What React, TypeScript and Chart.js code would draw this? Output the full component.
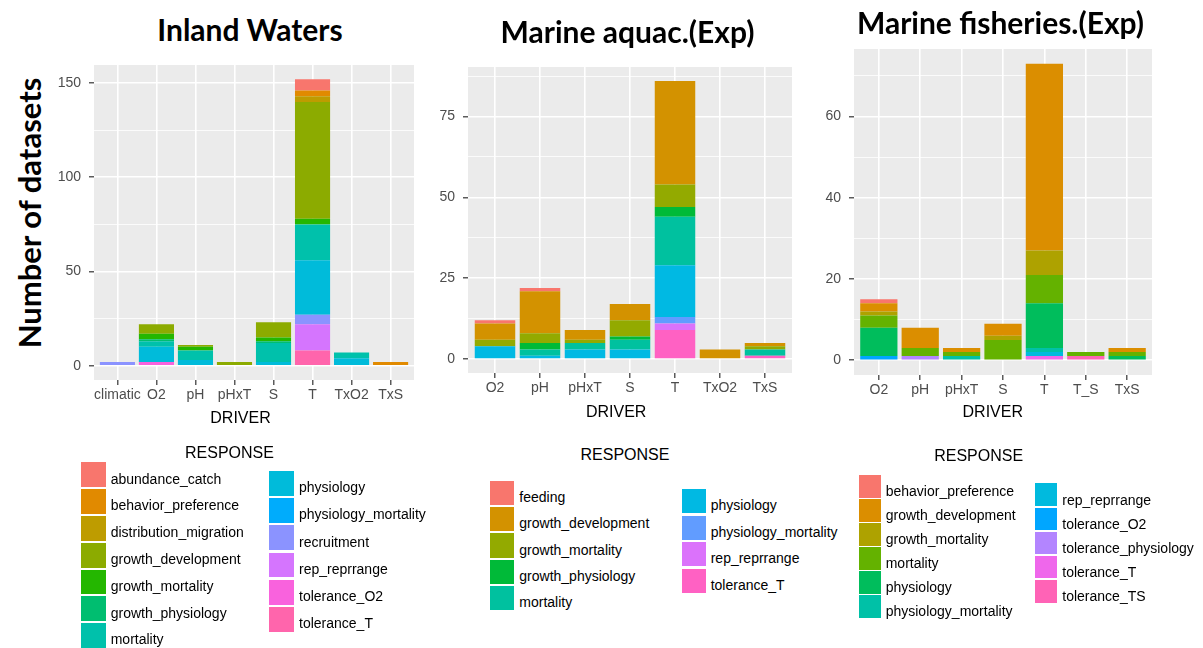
import React, { useEffect, useRef } from 'react';
import { Chart, registerables } from 'chart.js';

Chart.register(...registerables);

// ---------------- Panel 1: Inland Waters ----------------
const inlandDrivers = ['climatic', 'O2', 'pH', 'pHxT', 'S', 'T', 'TxO2', 'TxS'];
const inlandResponses = [
  'abundance_catch', 'behavior_preference', 'distribution_migration', 'growth_development',
  'growth_mortality', 'growth_physiology', 'mortality', 'physiology', 'physiology_mortality',
  'recruitment', 'rep_reprrange', 'tolerance_O2', 'tolerance_T',
];
const inlandColors = [
  '#F8766D', '#E18A00', '#BE9C00', '#8CAB00', '#24B700', '#00BE70', '#00C1AB',
  '#00BBDA', '#00ACFC', '#8B93FF', '#D575FE', '#F962DD', '#FF65AC',
];
// rows follow inlandResponses, columns follow inlandDrivers
const inlandCounts = [
  [0, 0, 0, 0, 0, 6, 0, 0],   // abundance_catch
  [0, 0, 0, 0, 0, 3, 0, 2],   // behavior_preference
  [0, 0, 0, 0, 0, 3, 0, 0],   // distribution_migration
  [0, 5, 1, 2, 8, 62, 0, 0],  // growth_development
  [0, 3, 2, 0, 2, 3, 0, 0],   // growth_mortality
  [0, 1, 0, 0, 1, 0, 0, 0],   // growth_physiology
  [0, 3, 5, 0, 10, 19, 3, 0], // mortality
  [0, 8, 3, 0, 2, 29, 4, 0],  // physiology
  [0, 0, 0, 0, 0, 0, 0, 0],   // physiology_mortality
  [2, 0, 0, 0, 0, 5, 0, 0],   // recruitment
  [0, 0, 0, 0, 0, 14, 0, 0],  // rep_reprrange
  [0, 2, 0, 0, 0, 0, 0, 0],   // tolerance_O2
  [0, 0, 0, 0, 0, 8, 0, 0],   // tolerance_T
];
const inlandYTicks = [0, 50, 100, 150];

// ---------------- Panel 2: Marine aquac.(Exp) ----------------
const aquaDrivers = ['O2', 'pH', 'pHxT', 'S', 'T', 'TxO2', 'TxS'];
const aquaResponses = [
  'feeding', 'growth_development', 'growth_mortality', 'growth_physiology', 'mortality',
  'physiology', 'physiology_mortality', 'rep_reprrange', 'tolerance_T',
];
const aquaColors = [
  '#F8766D', '#D39200', '#93AA00', '#00BA38', '#00C19F', '#00B9E3', '#619CFF', '#DB72FB', '#FF61C3',
];
const aquaCounts = [
  [1, 1, 0, 0, 0, 0, 0],    // feeding
  [5, 13, 3, 5, 32, 3, 1],  // growth_development
  [2, 3, 1, 5, 7, 0, 1],    // growth_mortality
  [0, 2, 0, 1, 3, 0, 0],    // growth_physiology
  [0, 2, 2, 3, 15, 0, 2],   // mortality
  [4, 1, 3, 3, 16, 0, 0],   // physiology
  [0, 0, 0, 0, 2, 0, 0],    // physiology_mortality
  [0, 0, 0, 0, 2, 0, 0],    // rep_reprrange
  [0, 0, 0, 0, 9, 0, 1],    // tolerance_T
];
const aquaYTicks = [0, 25, 50, 75];

// ---------------- Panel 3: Marine fisheries.(Exp) ----------------
const fishDrivers = ['O2', 'pH', 'pHxT', 'S', 'T', 'T_S', 'TxS'];
const fishResponses = [
  'behavior_preference', 'growth_development', 'growth_mortality', 'mortality', 'physiology',
  'physiology_mortality', 'rep_reprrange', 'tolerance_O2', 'tolerance_physiology', 'tolerance_T', 'tolerance_TS',
];
const fishColors = [
  '#F8766D', '#DB8E00', '#AEA200', '#64B200', '#00BD5C', '#00C1A7', '#00BADE', '#00A6FF', '#B385FF', '#EF67EB', '#FF63B6',
];
const fishCounts = [
  [1, 0, 0, 0, 0, 0, 0],   // behavior_preference
  [2, 5, 1, 3, 46, 0, 1],  // growth_development
  [1, 0, 0, 1, 6, 0, 0],   // growth_mortality
  [3, 2, 1, 5, 7, 1, 1],   // mortality
  [7, 0, 0, 0, 11, 0, 1],  // physiology
  [0, 0, 1, 0, 1, 0, 0],   // physiology_mortality
  [0, 0, 0, 0, 1, 0, 0],   // rep_reprrange
  [1, 0, 0, 0, 0, 0, 0],   // tolerance_O2
  [0, 1, 0, 0, 0, 0, 0],   // tolerance_physiology
  [0, 0, 0, 0, 1, 0, 0],   // tolerance_T
  [0, 0, 0, 0, 0, 1, 0],   // tolerance_TS
];
const fishYTicks = [0, 20, 40, 60];

// ---------------- layout ----------------
const Y_AXIS_W = 60;
const X_AXIS_H = 34;
const PAD_T = 20;
const PAD_R = 16;
const TICK_FONT = { family: '"Liberation Sans", Arial, sans-serif', size: 14 };
const SANS = '"Liberation Sans", Arial, sans-serif';
const TITLE_FONT = 'Lato, "Open Sans", sans-serif';

type Rect = { left: number; top: number; right: number; bottom: number };
type LegendCol = { keyX: number; labelX: number; top0: number; pitch: number; count: number };
type PanelCfg = {
  title: string;
  titleCx: number;
  titleTop: number;
  drivers: string[];
  responses: string[];
  colors: string[];
  counts: number[][];
  yTicks: number[];
  plot: Rect;
  xTitleCx: number;
  xTitleTop: number;
  legendTitleCx: number;
  legendTitleTop: number;
  cols: LegendCol[];
  keyW: number;
  keyH: number;
};

const panels: PanelCfg[] = [
  {
    title: 'Inland Waters', titleCx: 250, titleTop: 11.4,
    drivers: inlandDrivers, responses: inlandResponses, colors: inlandColors, counts: inlandCounts, yTicks: inlandYTicks,
    plot: { left: 94, top: 65, right: 414, bottom: 380 },
    xTitleCx: 240.5, xTitleTop: 408.8,
    legendTitleCx: 229.5, legendTitleTop: 443.8,
    cols: [
      { keyX: 81, labelX: 110.7, top0: 462.3, pitch: 26.83, count: 7 },
      { keyX: 269, labelX: 299, top0: 471, pitch: 27.2, count: 6 },
    ],
    keyW: 24.7, keyH: 24.8,
  },
  {
    title: 'Marine aquac.(Exp)', titleCx: 627.5, titleTop: 13.4,
    drivers: aquaDrivers, responses: aquaResponses, colors: aquaColors, counts: aquaCounts, yTicks: aquaYTicks,
    plot: { left: 468, top: 67, right: 792, bottom: 373 },
    xTitleCx: 616.2, xTitleTop: 402.8,
    legendTitleCx: 625, legendTitleTop: 446.1,
    cols: [
      { keyX: 490, labelX: 519.3, top0: 481, pitch: 26.2, count: 5 },
      { keyX: 682, labelX: 710.7, top0: 489, pitch: 26.6, count: 4 },
    ],
    keyW: 24, keyH: 24.3,
  },
  {
    title: 'Marine fisheries.(Exp)', titleCx: 1000.5, titleTop: 4.4,
    drivers: fishDrivers, responses: fishResponses, colors: fishColors, counts: fishCounts, yTicks: fishYTicks,
    plot: { left: 854, top: 49, right: 1152, bottom: 375 },
    xTitleCx: 992.8, xTitleTop: 402.5,
    legendTitleCx: 978.7, legendTitleTop: 447.2,
    cols: [
      { keyX: 859, labelX: 885.7, top0: 475, pitch: 24, count: 6 },
      { keyX: 1035, labelX: 1062.3, top0: 483.3, pitch: 24.2, count: 5 },
    ],
    keyW: 22, keyH: 22.5,
  },
];

const bgPlugin = {
  id: 'panelBackground',
  beforeDraw(chart: any) {
    const { ctx, chartArea: a } = chart;
    ctx.save();
    ctx.fillStyle = '#EBEBEB';
    ctx.fillRect(a.left, a.top, a.right - a.left, a.bottom - a.top);
    ctx.restore();
  },
};

function PanelChart({ cfg }: { cfg: PanelCfg }) {
  const ref = useRef<HTMLCanvasElement>(null);
  const plotW = cfg.plot.right - cfg.plot.left;
  const plotH = cfg.plot.bottom - cfg.plot.top;
  const width = Y_AXIS_W + plotW + PAD_R;
  const height = PAD_T + plotH + X_AXIS_H;

  useEffect(() => {
    if (!ref.current) return;
    const n = cfg.drivers.length;
    const totals = cfg.drivers.map((_, i) => cfg.counts.reduce((s, row) => s + row[i], 0));
    const maxTotal = Math.max(...totals);
    const yMin = -0.05 * maxTotal;
    const yMax = 1.05 * maxTotal;
    const major = cfg.yTicks[1] - cfg.yTicks[0];
    const half = major / 2;
    const isMajor = (v: number) => cfg.yTicks.some((t) => Math.abs(t - v) < 1e-6);

    // ggplot stacks the first level on top: draw in reverse order
    const datasets = cfg.responses
      .map((r, k) => ({
        label: r,
        data: cfg.counts[k].map((v, i) => ({ x: i, y: v })),
        backgroundColor: cfg.colors[k],
        borderWidth: 0,
        barPercentage: 0.9,
        categoryPercentage: 1,
        stack: 'all',
      }))
      .reverse();

    const chart = new Chart(ref.current, {
      type: 'bar',
      data: { datasets } as any,
      options: {
        animation: false,
        responsive: false,
        maintainAspectRatio: false,
        devicePixelRatio: 1,
        layout: { padding: { top: PAD_T, right: PAD_R, left: 0, bottom: 0 } },
        plugins: {
          legend: { display: false },
          tooltip: { enabled: false },
          title: { display: false },
        },
        scales: {
          x: {
            type: 'linear',
            min: -0.6,
            max: n - 1 + 0.6,
            bounds: 'data',
            offset: false,
            stacked: true,
            afterBuildTicks: (s: any) => {
              s.ticks = cfg.drivers.map((_, i) => ({ value: i }));
            },
            afterFit: (s: any) => {
              s.height = X_AXIS_H;
            },
            ticks: {
              autoSkip: false,
              maxRotation: 0,
              minRotation: 0,
              padding: 2,
              color: '#4D4D4D',
              font: TICK_FONT,
              callback: (v: any) => cfg.drivers[Math.round(Number(v))] ?? '',
            },
            grid: {
              offset: false,
              color: '#FFFFFF',
              lineWidth: 1.6,
              drawTicks: true,
              tickLength: 5,
              tickColor: '#333333',
              tickWidth: 1.2,
            },
            border: { display: false },
          },
          y: {
            type: 'linear',
            min: yMin,
            max: yMax,
            bounds: 'data',
            stacked: true,
            afterBuildTicks: (s: any) => {
              const t: any[] = [];
              for (let v = 0; v <= yMax + 1e-9; v += half) t.push({ value: v });
              s.ticks = t;
            },
            afterFit: (s: any) => {
              s.width = Y_AXIS_W;
            },
            ticks: {
              autoSkip: false,
              padding: 8,
              color: '#4D4D4D',
              font: TICK_FONT,
              callback: (v: any) => (isMajor(Number(v)) ? String(Math.round(Number(v))) : ''),
            },
            grid: {
              color: '#FFFFFF',
              lineWidth: (c: any) => (isMajor(c.tick?.value) ? 1.6 : 0.8),
              drawTicks: true,
              tickLength: 5,
              tickColor: (c: any) => (isMajor(c.tick?.value) ? '#333333' : 'rgba(0,0,0,0)'),
              tickWidth: 1.2,
            },
            border: { display: false },
          },
        },
      } as any,
      plugins: [bgPlugin],
    });
    return () => chart.destroy();
  }, [cfg]);

  return (
    <canvas
      ref={ref}
      width={width}
      height={height}
      style={{
        position: 'absolute',
        left: cfg.plot.left - Y_AXIS_W,
        top: cfg.plot.top - PAD_T,
        width,
        height,
      }}
    />
  );
}

function Panel({ cfg }: { cfg: PanelCfg }) {
  const items: JSX.Element[] = [];
  let k = 0;
  cfg.cols.forEach((col, ci) => {
    for (let j = 0; j < col.count; j++, k++) {
      const top = col.top0 + j * col.pitch;
      items.push(
        <div
          key={`k${ci}-${j}`}
          style={{
            position: 'absolute',
            left: col.keyX,
            top,
            width: cfg.keyW,
            height: cfg.keyH,
            background: cfg.colors[k],
          }}
        />,
      );
      items.push(
        <div
          key={`l${ci}-${j}`}
          style={{
            position: 'absolute',
            left: col.labelX,
            top: top + 8.2,
            fontFamily: SANS,
            fontSize: 14,
            lineHeight: '16px',
            color: '#000',
            whiteSpace: 'nowrap',
          }}
        >
          {cfg.responses[k]}
        </div>,
      );
    }
  });

  return (
    <>
      <div
        style={{
          position: 'absolute',
          left: cfg.titleCx - 250,
          width: 500,
          top: cfg.titleTop,
          textAlign: 'center',
          fontFamily: TITLE_FONT,
          fontWeight: 700,
          fontSize: 30,
          lineHeight: '36px',
          color: '#000',
          whiteSpace: 'nowrap',
        }}
      >
        {cfg.title}
      </div>
      <PanelChart cfg={cfg} />
      <div
        style={{
          position: 'absolute',
          left: cfg.xTitleCx - 100,
          width: 200,
          top: cfg.xTitleTop,
          textAlign: 'center',
          fontFamily: SANS,
          fontSize: 16,
          lineHeight: '18px',
          color: '#000',
        }}
      >
        DRIVER
      </div>
      <div
        style={{
          position: 'absolute',
          left: cfg.legendTitleCx - 100,
          width: 200,
          top: cfg.legendTitleTop,
          textAlign: 'center',
          fontFamily: SANS,
          fontSize: 16,
          lineHeight: '18px',
          color: '#000',
        }}
      >
        RESPONSE
      </div>
      {items}
    </>
  );
}

export default function App() {
  return (
    <div
      style={{
        position: 'fixed',
        left: 0,
        top: 0,
        width: 1203,
        height: 648,
        background: '#FFFFFF',
        overflow: 'hidden',
      }}
    >
      <div
        style={{
          position: 'absolute',
          left: 28.5 - 200,
          top: 213 - 19,
          width: 400,
          height: 38,
          lineHeight: '38px',
          textAlign: 'center',
          transform: 'rotate(-90deg)',
          transformOrigin: '50% 50%',
          fontFamily: TITLE_FONT,
          fontWeight: 700,
          fontSize: 31,
          color: '#000',
          whiteSpace: 'nowrap',
        }}
      >
        Number of datasets
      </div>
      {panels.map((p) => (
        <Panel key={p.title} cfg={p} />
      ))}
    </div>
  );
}
